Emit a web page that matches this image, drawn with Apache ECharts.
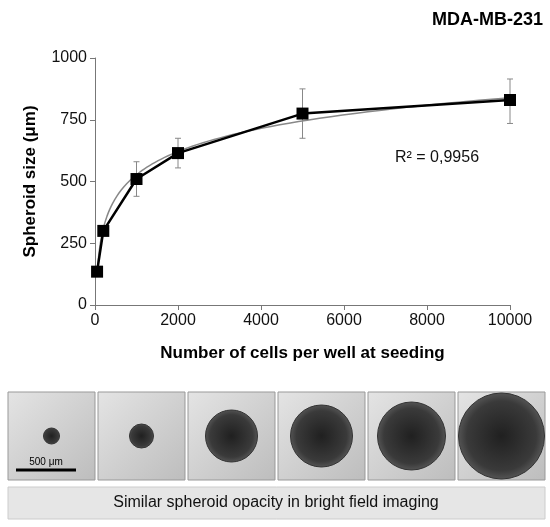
<!DOCTYPE html>
<html><head><meta charset="utf-8">
<script src="https://cdn.jsdelivr.net/npm/echarts@6/dist/echarts.min.js"></script>
<style>html,body{margin:0;padding:0;background:#fff}#c{width:550px;height:527px}</style>
</head><body><div id="c"></div>
<script>
const cells = [50, 200, 1000, 2000, 5000, 10000];
const sizes = [135, 300, 510, 615, 775, 830];
const errLow = [125, 285, 440, 555, 675, 735];
const errHigh = [145, 315, 580, 675, 875, 915];
const xTicks = [0, 2000, 4000, 6000, 8000, 10000];
const yTicks = [0, 250, 500, 750, 1000];
const spheroidRadii = [8, 12, 26, 31, 34, 43];

const lx = cells.map(Math.log);
const n = cells.length;
const mx = lx.reduce((a,b)=>a+b)/n, my = sizes.reduce((a,b)=>a+b)/n;
let sxy=0,sxx=0; for(let i=0;i<n;i++){sxy+=(lx[i]-mx)*(sizes[i]-my);sxx+=(lx[i]-mx)**2;}
const A = sxy/sxx, B = my - A*mx;
const trend = [];
for (let x = 50; x <= 10000; x *= 1.05) trend.push([x, A*Math.log(x)+B]);
trend.push([10000, A*Math.log(10000)+B]);

const chart = echarts.init(document.getElementById('c'));
const graphics = [];
const bw = 87, gap = 3, x0 = 8;
spheroidRadii.forEach((r, i) => {
  const bx = x0 + i*(bw+gap);
  graphics.push({type:'rect', shape:{x:bx, y:392, width:bw, height:88},
    style:{fill:new echarts.graphic.LinearGradient(0,0,1,1,[{offset:0,color:'#e4e4e4'},{offset:1,color:'#bdbdbd'}]), stroke:'#999'}});
  graphics.push({type:'circle', shape:{cx:bx+bw/2, cy:436, r:r},
    style:{fill:new echarts.graphic.RadialGradient(0.5,0.5,0.5,[{offset:0,color:'#202020'},{offset:0.8,color:'#3a3a3a'},{offset:1,color:'#555'}]), stroke:'#333'}});
});
graphics.push({type:'line', shape:{x1:16, y1:470, x2:76, y2:470}, style:{stroke:'#000', lineWidth:3}});
graphics.push({type:'text', x:46, y:457, style:{text:'500 μm', fill:'#000', font:'10px Arial', align:'center'}});
graphics.push({type:'rect', shape:{x:8, y:487, width:537, height:32}, style:{fill:'#e6e6e6', stroke:'#ccc'}});
graphics.push({type:'text', x:276, y:503, style:{text:'Similar spheroid opacity in bright field imaging', fill:'#111', font:'16px Arial', align:'center', verticalAlign:'middle'}});
graphics.push({type:'text', x:543, y:20, style:{text:'MDA-MB-231', fill:'#000', font:'bold 18px Arial', align:'right', verticalAlign:'middle'}});
graphics.push({type:'text', x:395, y:158, style:{text:'R² = 0,9956', fill:'#111', font:'16px Arial', verticalAlign:'middle'}});

chart.setOption({
  animation:false,
  grid:{left:95, right:40, top:58, bottom:222},
  xAxis:{type:'value', min:0, max:10000, interval:2000,
    name:'Number of cells per well at seeding', nameLocation:'middle', nameGap:40,
    nameTextStyle:{fontWeight:'bold', fontSize:17, color:'#000', fontFamily:'Arial'},
    axisLine:{lineStyle:{color:'#777'}}, axisTick:{show:true, lineStyle:{color:'#777'}},
    axisLabel:{fontSize:16, color:'#111', fontFamily:'Arial', formatter:v=>String(v)}, splitLine:{show:false}},
  yAxis:{type:'value', min:0, max:1000, interval:250,
    name:'Spheroid size (μm)', nameLocation:'middle', nameGap:56,
    nameTextStyle:{fontWeight:'bold', fontSize:17, color:'#000', fontFamily:'Arial'},
    axisLine:{show:true, lineStyle:{color:'#777'}}, axisTick:{show:true, lineStyle:{color:'#777'}},
    axisLabel:{fontSize:16, color:'#111', fontFamily:'Arial', formatter:v=>String(v)}, splitLine:{show:false}},
  graphic: graphics,
  series:[
    {type:'line', data:trend, showSymbol:false, lineStyle:{color:'#888', width:1.5}, z:1},
    {type:'custom', z:2, data: cells.map((c,i)=>[c, errLow[i], errHigh[i]]),
      renderItem:(p, api)=>{
        const lo = api.coord([api.value(0), api.value(1)]);
        const hi = api.coord([api.value(0), api.value(2)]);
        const s = {stroke:'#888', lineWidth:1};
        return {type:'group', children:[
          {type:'line', shape:{x1:lo[0],y1:lo[1],x2:hi[0],y2:hi[1]}, style:s},
          {type:'line', shape:{x1:lo[0]-3,y1:lo[1],x2:lo[0]+3,y2:lo[1]}, style:s},
          {type:'line', shape:{x1:hi[0]-3,y1:hi[1],x2:hi[0]+3,y2:hi[1]}, style:s}]};
      }},
    {type:'line', z:3, data: cells.map((c,i)=>[c, sizes[i]]),
      symbol:'rect', symbolSize:12, itemStyle:{color:'#000'}, lineStyle:{color:'#000', width:2.5}}
  ]
});
</script></body></html>
